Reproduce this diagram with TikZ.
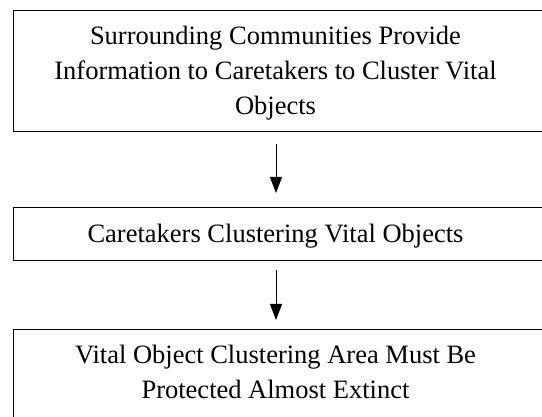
\documentclass[tikz,border=0pt]{standalone}
\usepackage{fontspec}
\setmainfont{Liberation Serif}
\usetikzlibrary{arrows.meta}
\begin{document}
\begin{tikzpicture}[x=1pt,y=-1pt,
  boxstyle/.style={draw=black,line width=1pt,rectangle,inner sep=0pt,anchor=north west},
  txt/.style={font=\fontsize{26.5}{35}\selectfont,align=center,inner sep=0pt,anchor=base},
  arr/.style={line width=1pt,-{Triangle[length=16pt,width=12pt]}}]
\useasboundingbox (0,0) rectangle (542,417);
\clip (0,0) rectangle (542,417);
\coordinate (ax) at (276,0);
\node[boxstyle,minimum width=560pt,minimum height=121pt] (top) at (13,10) {};
\node[boxstyle,minimum width=560pt,minimum height=53pt] (mid) at (13,207) {};
\node[boxstyle,minimum width=560pt,minimum height=120pt] (bot) at (13,329) {};
\node[txt] (ttop) at (275.5,115) {Surrounding Communities Provide\\Information to Caretakers to Cluster Vital\\Objects};
\node[txt] (tmid) at (275.5,243) {Caretakers Clustering Vital Objects};
\node[txt] (tbot) at (275.5,399) {Vital Object Clustering Area Must Be\\Protected Almost Extinct};
\draw[arr,shorten <=12pt,shorten >=14pt] (top.south -| ax) -- (mid.north -| ax);
\draw[arr,shorten <=9pt,shorten >=9pt] (mid.south -| ax) -- (bot.north -| ax);
\end{tikzpicture}
\end{document}
